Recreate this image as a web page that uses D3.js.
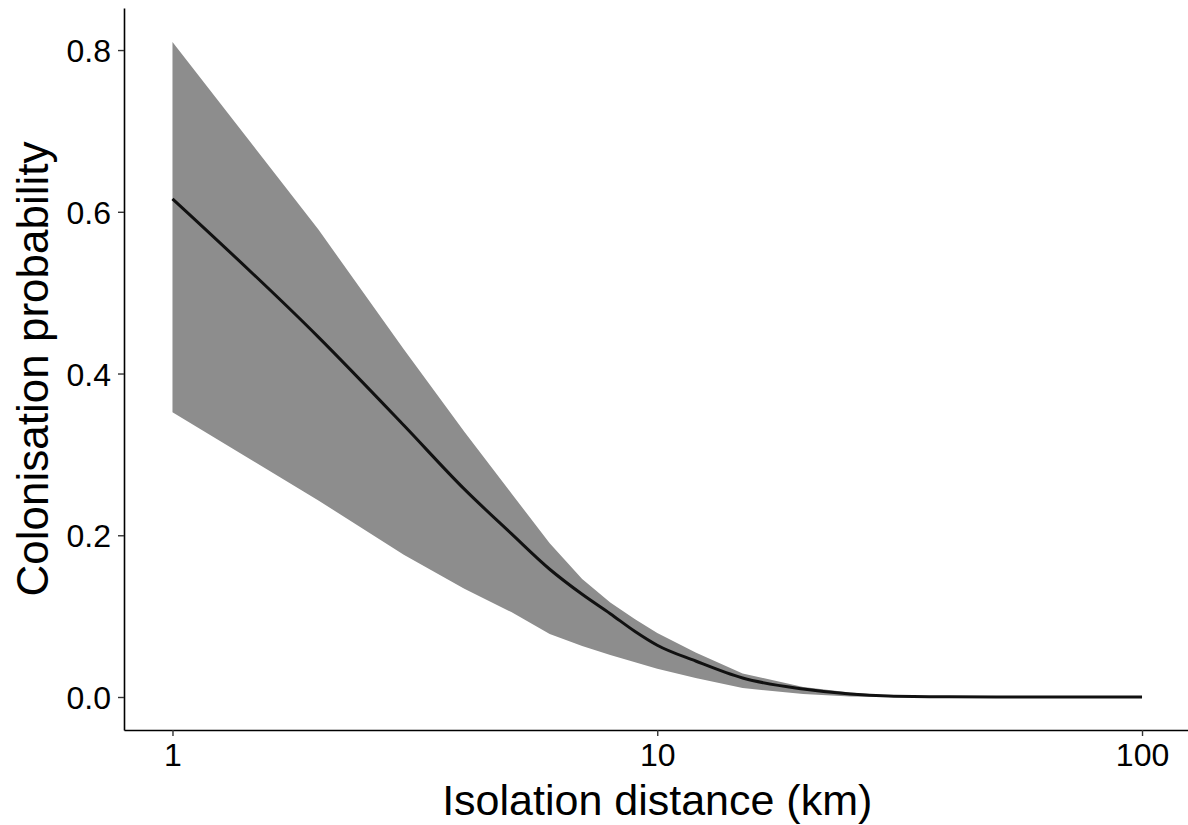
<!DOCTYPE html>
<html>
<head>
<meta charset="utf-8">
<script src="https://cdn.jsdelivr.net/npm/d3@7"></script>
<style>
  html, body { margin: 0; padding: 0; background: #fff; }
  svg { display: block; }
  text { font-family: Arial, "Liberation Sans", Arimo, sans-serif; }
</style>
</head>
<body>
<svg id="chart" width="1188" height="825"></svg>
<script>
// Distance values (km) where the fit was evaluated
const distance = [1, 2, 3, 4, 5, 6, 7, 8, 9, 10, 12, 15, 20, 25, 30, 40, 50, 70, 100];
// Fitted colonisation probability
const fitted   = [0.616, 0.445, 0.336, 0.257, 0.202, 0.158, 0.127, 0.103, 0.081, 0.064, 0.0445, 0.0235, 0.0099, 0.0037, 0.0012, 0.0002, 0, 0, 0];
// Upper and lower confidence limits
const upper    = [0.810, 0.578, 0.430, 0.328, 0.252, 0.190, 0.146, 0.117, 0.096, 0.079, 0.055, 0.029, 0.0125, 0.0055, 0.002, 0.0003, 0, 0, 0];
const lower    = [0.352, 0.243, 0.176, 0.134, 0.105, 0.078, 0.063, 0.052, 0.043, 0.035, 0.0235, 0.011, 0.0037, 0.0006, 0, 0, 0, 0, 0];
// Tick labels
const xTicks = [1, 10, 100];
const yTicks = [0.0, 0.2, 0.4, 0.6, 0.8];
const xTitle = "Isolation distance (km)";
const yTitle = "Colonisation probability";

const svg = d3.select("#chart");
const mLeft = 124, mRight = 1190.5, mTop = 8, mBottom = 730;

const x = d3.scaleLog().domain([Math.pow(10, -0.1), Math.pow(10, 2.1)]).range([mLeft, mRight]);
const y = d3.scaleLinear().domain([-0.0408, 0.852]).range([mBottom, mTop]);

const rows = distance.map((d, i) => ({d, f: fitted[i], u: upper[i], l: lower[i]}));

// Ribbon
svg.append("path")
  .datum(rows)
  .attr("fill", "#8d8d8d")
  .attr("d", d3.area().x(r => x(r.d)).y0(r => y(r.l)).y1(r => y(r.u)));

// Fitted line
svg.append("path")
  .datum(rows)
  .attr("fill", "none")
  .attr("stroke", "#111")
  .attr("stroke-width", 3)
  .attr("d", d3.line().x(r => x(r.d)).y(r => y(r.f)).curve(d3.curveMonotoneX));

// Axes
const xAxis = svg.append("g").attr("transform", `translate(0,${mBottom})`)
  .call(d3.axisBottom(x).tickValues(xTicks).tickFormat(d3.format("d")).tickSizeInner(6).tickSizeOuter(0).tickPadding(6));
const yAxis = svg.append("g").attr("transform", `translate(${mLeft},0)`)
  .call(d3.axisLeft(y).tickValues(yTicks).tickFormat(d3.format(".1f")).tickSizeInner(6).tickSizeOuter(0).tickPadding(7));

[xAxis, yAxis].forEach(g => {
  g.select(".domain").attr("stroke", "#000").attr("stroke-width", 1.6);
  g.selectAll(".tick line").attr("stroke", "#333").attr("stroke-width", 1.4);
  g.selectAll(".tick text").attr("fill", "#000").style("font-size", "32px");
});
xAxis.selectAll(".tick text").attr("dy", "0.75em");
yAxis.selectAll(".tick text").attr("dy", "0.36em");

// Titles
svg.append("text")
  .attr("x", (mLeft + mRight) / 2).attr("y", 815)
  .attr("text-anchor", "middle")
  .style("font-size", "43px")
  .text(xTitle);

svg.append("text")
  .attr("transform", `translate(48,${(mTop + mBottom) / 2}) rotate(-90)`)
  .attr("text-anchor", "middle")
  .style("font-size", "44px")
  .text(yTitle);
</script>
</body>
</html>
